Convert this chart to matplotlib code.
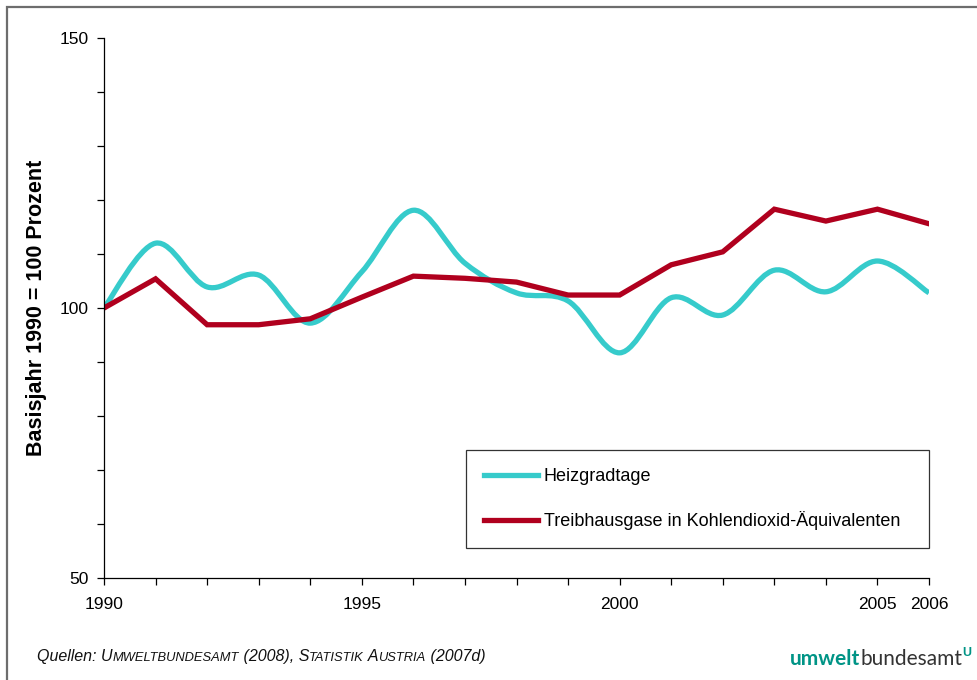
import matplotlib
matplotlib.use("Agg")
import matplotlib.pyplot as plt
from matplotlib.path import Path
from matplotlib.patches import PathPatch, Rectangle
from matplotlib.lines import Line2D

plt.rcParams['font.family'] = ['Liberation Sans', 'DejaVu Sans']

# data (index 1990 = 100)
years = [1990, 1991, 1992, 1993, 1994, 1995, 1996, 1997, 1998,
         1999, 2000, 2001, 2002, 2003, 2004, 2005, 2006]
heizgradtage = [100.0, 112.0, 103.9, 106.1, 97.2, 106.7, 118.1, 108.3, 102.8,
                101.3, 91.7, 101.9, 98.7, 107.0, 103.0, 108.7, 102.8]
treibhausgase = [100.0, 105.4, 96.9, 96.9, 98.0, 102.0, 105.9, 105.5, 104.8,
                 102.4, 102.4, 108.0, 110.4, 118.3, 116.1, 118.3, 115.6]
xtick_labels = {1990: '1990', 1995: '1995', 2000: '2000', 2005: '2005', 2006: '2006'}
series_names = ['Heizgradtage', 'Treibhausgase in Kohlendioxid-Äquivalenten']

cyan = '#36CBCB'
red = '#B0001E'
teal = '#009486'


# smoothed line like the office chart tool: cubic bezier through the points
def smooth_path(xs, ys):
    verts = [(xs[0], ys[0])]
    codes = [Path.MOVETO]
    n = len(xs)
    for i in range(n - 1):
        x0, y0 = xs[max(i - 1, 0)], ys[max(i - 1, 0)]
        x1, y1 = xs[i], ys[i]
        x2, y2 = xs[i + 1], ys[i + 1]
        x3, y3 = xs[min(i + 2, n - 1)], ys[min(i + 2, n - 1)]
        c1 = (x1 + (x2 - x0) / 6.0, y1 + (y2 - y0) / 6.0)
        c2 = (x2 - (x3 - x1) / 6.0, y2 - (y3 - y1) / 6.0)
        verts += [c1, c2, (x2, y2)]
        codes += [Path.CURVE4, Path.CURVE4, Path.CURVE4]
    return Path(verts, codes)


# put text pieces next to each other on one baseline (pixel units)
def text_run(fig, x_px, y_px, pieces, **kw):
    renderer = fig.canvas.get_renderer()
    W, H = fig.bbox.width, fig.bbox.height
    x = x_px
    out = []
    for txt, props in pieces:
        opts = dict(kw)
        opts.update(props)
        t = fig.text(x / W, 1 - y_px / H, txt, va='baseline', ha='left', **opts)
        x = t.get_window_extent(renderer).x1
        out.append(t)
    return out


fig = plt.figure(figsize=(9.77, 6.8), dpi=100)
ax = fig.add_axes([104 / 977, 1 - 578 / 680, 825 / 977, 540 / 680])

patch = PathPatch(smooth_path(years, heizgradtage), facecolor='none',
                  edgecolor=cyan, lw=3.8, capstyle='butt', joinstyle='round')
ax.add_patch(patch)
ax.plot(years, treibhausgase, color=red, lw=3.8, solid_joinstyle='miter')

ax.set_xlim(1990, 2006)
ax.set_ylim(50, 150)
ax.spines['top'].set_visible(False)
ax.spines['right'].set_visible(False)
ax.spines['left'].set_linewidth(0.9)
ax.spines['bottom'].set_linewidth(0.9)

ax.set_xticks(years)
ax.set_xticklabels([xtick_labels.get(y, '') for y in years])
ax.set_yticks([50, 100, 150])
ax.set_yticks(range(50, 151, 10), minor=True)
ax.tick_params(axis='x', length=5, width=0.9, pad=9, labelsize=12.5)
ax.tick_params(axis='y', which='both', length=5, width=0.9, pad=6, labelsize=12.5)

ax.set_ylabel('Basisjahr 1990 = 100 Prozent', fontsize=15.5, fontweight='bold')
ax.yaxis.set_label_coords(-(104 - 47) / 825, 0.5)

handles = [Line2D([], [], color=cyan, lw=3.8),
           Line2D([], [], color=red, lw=3.8)]
leg = ax.legend(handles, series_names,
                loc='upper left', bbox_to_anchor=(0.4388, 0.0537, 0.5612, 0.183),
                mode='expand', borderaxespad=0, fontsize=13, frameon=True,
                fancybox=False, edgecolor='black', handlelength=3.0,
                handletextpad=0.3, labelspacing=1.45, borderpad=1.0)
leg.get_frame().set_linewidth(0.9)

# outer gray frame
fig.patches.append(Rectangle((7 / 977, -0.1), 1.2, 1 - 7 / 680 + 0.1,
                             transform=fig.transFigure, fill=False,
                             edgecolor='#6d6d6d', lw=1.6))

# source line with small caps
big = {'fontsize': 11.5}
small = {'fontsize': 9.3}
text_run(fig, 37, 661, [('Quellen: U', big), ('MWELTBUNDESAMT', small),
                        (' (2008), S', big), ('TATISTIK', small), (' A', big),
                        ('USTRIA', small), (' (2007d)', big)],
         style='italic', color='#111111')

# logo
logo = text_run(fig, 790, 665, [('umwelt', {'fontweight': 'bold', 'color': teal}),
                                ('bundesamt', {'color': '#333333'})],
                family='Lato', fontsize=15)
x_end = logo[-1].get_window_extent(fig.canvas.get_renderer()).x1
fig.text(x_end / 977, 1 - 656 / 680, 'U', fontsize=9, fontweight='bold',
         color=teal, va='baseline', ha='left')

fig.savefig('out.png', dpi=100)
